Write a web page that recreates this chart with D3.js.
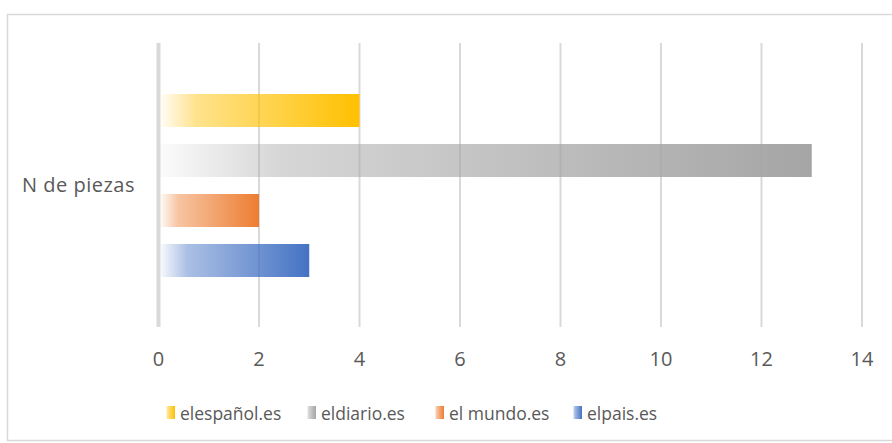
<!DOCTYPE html>
<html>
<head>
<meta charset="utf-8">
<script src="https://cdn.jsdelivr.net/npm/d3@7"></script>
<style>
    body { margin: 0; background: #fff; }
    svg text { font-family: "Open Sans", sans-serif; fill: #595959; }
</style>
</head>
<body>
<div id="chart"></div>
<script>
// single category, four series
let categories = ["N de piezas"];
let seriesNames = ["elespañol.es", "eldiario.es", "el mundo.es", "elpais.es"];
let seriesValues = [4, 13, 2, 3];
let seriesColors = ["#FFC000", "#A5A5A5", "#ED7D31", "#4472C4"];
let xTicks = [0, 2, 4, 6, 8, 10, 12, 14];

let width = 892, height = 443;
let fontSize = 20;

let svg = d3.select("#chart").append("svg")
    .attr("width", width)
    .attr("height", height);

// chart frame
svg.append("rect")
    .attr("x", 7.5).attr("y", 14.5)
    .attr("width", 900).attr("height", 426)
    .attr("fill", "#fff")
    .attr("stroke", "#d9d9d9")
    .attr("stroke-width", 1.5);

let defs = svg.append("defs");

seriesColors.forEach((c, i) => {
    let g = defs.append("linearGradient")
        .attr("id", "grad" + i)
        .attr("x1", "0%").attr("x2", "100%")
        .attr("y1", "0%").attr("y2", "0%");
    g.append("stop").attr("offset", "0%").attr("stop-color", c).attr("stop-opacity", 0.04);
    g.append("stop").attr("offset", "18%").attr("stop-color", c).attr("stop-opacity", 0.45);
    g.append("stop").attr("offset", "100%").attr("stop-color", c).attr("stop-opacity", 1);
});

let x = d3.scaleLinear().domain([0, 14]).range([158.5, 862]);

let y = d3.scaleBand().domain(categories).range([43, 327]);
let ySeries = d3.scaleBand().domain(seriesNames)
    .range([y(categories[0]) + 42.5, y(categories[0]) + 242.5])
    .paddingInner(0.34).paddingOuter(0.17);

// gridlines
svg.append("g").selectAll("line")
    .data(xTicks.slice(1))
    .enter().append("line")
    .attr("x1", d => x(d)).attr("x2", d => x(d))
    .attr("y1", 43).attr("y2", 327)
    .attr("stroke", "#d9d9d9")
    .attr("stroke-width", 2);

// bars
svg.append("g").selectAll("rect")
    .data(seriesNames)
    .enter().append("rect")
    .attr("x", x(0) + 2)
    .attr("y", d => ySeries(d))
    .attr("width", (d, i) => x(seriesValues[i]) - x(0) - 2)
    .attr("height", ySeries.bandwidth())
    .attr("fill", (d, i) => `url(#grad${i})`);

// zero axis line
svg.append("line")
    .attr("x1", x(0)).attr("x2", x(0))
    .attr("y1", 43).attr("y2", 327)
    .attr("stroke", "#d9d9d9")
    .attr("stroke-width", 4);

// tick labels
svg.append("g").selectAll("text")
    .data(xTicks)
    .enter().append("text")
    .attr("x", d => x(d))
    .attr("y", 366)
    .attr("text-anchor", "middle")
    .attr("font-size", fontSize)
    .text(d => d);

// category label
svg.append("text")
    .attr("x", 135)
    .attr("y", 192)
    .attr("text-anchor", "end")
    .attr("font-size", fontSize)
    .attr("letter-spacing", "0.5px")
    .text(categories[0]);

// legend
let legendX = [166, 307, 435, 573];
let legend = svg.append("g").selectAll("g")
    .data(seriesNames)
    .enter().append("g")
    .attr("transform", (d, i) => `translate(${legendX[i]},406)`);

legend.append("rect")
    .attr("width", 9).attr("height", 13)
    .attr("fill", (d, i) => `url(#grad${i})`);

legend.append("text")
    .attr("x", 14)
    .attr("y", 13.5)
    .attr("font-size", 17.5)
    .text(d => d);
</script>
</body>
</html>
